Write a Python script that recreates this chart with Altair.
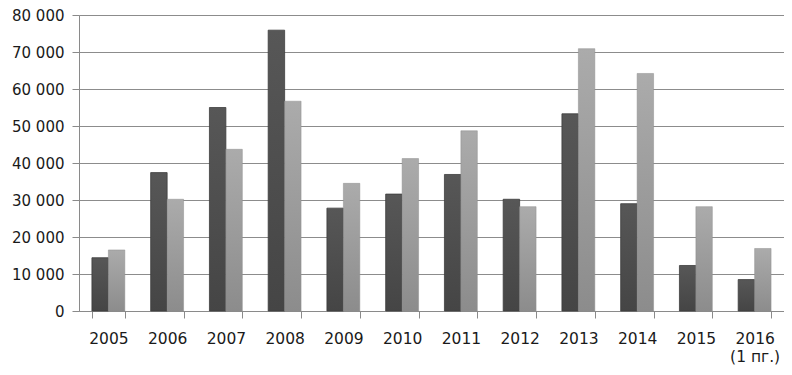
import altair as alt
import pandas as pd

years = ["2005", "2006", "2007", "2008", "2009", "2010", "2011", "2012", "2013", "2014", "2015", "2016"]
series_a = [14400, 37400, 55000, 75900, 27800, 31600, 36900, 30200, 53300, 29000, 12300, 8500]
series_b = [16500, 30200, 43700, 56700, 34500, 41200, 48700, 28200, 70900, 64200, 28200, 16900]
series_names = ["A", "B"]

rows = []
for i, y in enumerate(years):
    rows.append({"year": y, "series": "A", "value": series_a[i]})
    rows.append({"year": y, "series": "B", "value": series_b[i]})
df = pd.DataFrame(rows)

font = "DejaVu Sans"
fsize = 15.5

x_enc = alt.X(
    "year:N",
    sort=years,
    scale=alt.Scale(paddingInner=0.44, paddingOuter=0.22),
    axis=alt.Axis(
        title=None,
        labelAngle=0,
        tickBand="extent",
        tickSize=7,
        tickColor="#8a8a8a",
        domainColor="#8a8a8a",
        labelPadding=13,
        labelFont=font,
        labelFontSize=fsize,
        labelColor="#1a1a1a",
        labelLineHeight=18,
        labelExpr="datum.value == '2016' ? ['2016', '(1 пг.)'] : datum.value",
    ),
)
y_enc = alt.Y(
    "value:Q",
    scale=alt.Scale(domain=[0, 80000], nice=False),
    axis=alt.Axis(
        title=None,
        values=[0, 10000, 20000, 30000, 40000, 50000, 60000, 70000, 80000],
        labelExpr="replace(format(datum.value, ','), ',', ' ')",
        grid=True,
        gridColor="#8c8c8c",
        gridWidth=1,
        tickSize=7,
        tickColor="#8a8a8a",
        domainColor="#8a8a8a",
        labelPadding=8,
        labelFont=font,
        labelFontSize=15,
        labelColor="#1a1a1a",
    ),
)
xoff = alt.XOffset("series:N", scale=alt.Scale(domain=series_names, paddingInner=0, paddingOuter=0))

grad_a = alt.Gradient(
    gradient="linear", x1=0, x2=0, y1=0, y2=1,
    stops=[alt.GradientStop(color="#575757", offset=0), alt.GradientStop(color="#454545", offset=1)],
)
grad_b = alt.Gradient(
    gradient="linear", x1=0, x2=0, y1=0, y2=1,
    stops=[alt.GradientStop(color="#ababab", offset=0), alt.GradientStop(color="#8c8c8c", offset=1)],
)

base = alt.Chart(df)
bars_a = base.transform_filter(alt.datum.series == "A").mark_bar(
    fill=grad_a, stroke="#3e3e3e", strokeWidth=0.8
).encode(x=x_enc, y=y_enc, xOffset=xoff)
bars_b = base.transform_filter(alt.datum.series == "B").mark_bar(
    fill=grad_b, stroke="#8e8e8e", strokeWidth=0.5
).encode(x=x_enc, y=y_enc, xOffset=xoff)

chart = alt.layer(bars_a, bars_b).properties(
    width=705,
    height=296,
    autosize=alt.AutoSizeParams(type="none"),
    padding={"left": 71, "top": 7, "right": 0, "bottom": 56},
).configure_view(stroke=None).configure(background="white")

chart.save("out.html", embed_options={"renderer": "svg", "actions": False})
